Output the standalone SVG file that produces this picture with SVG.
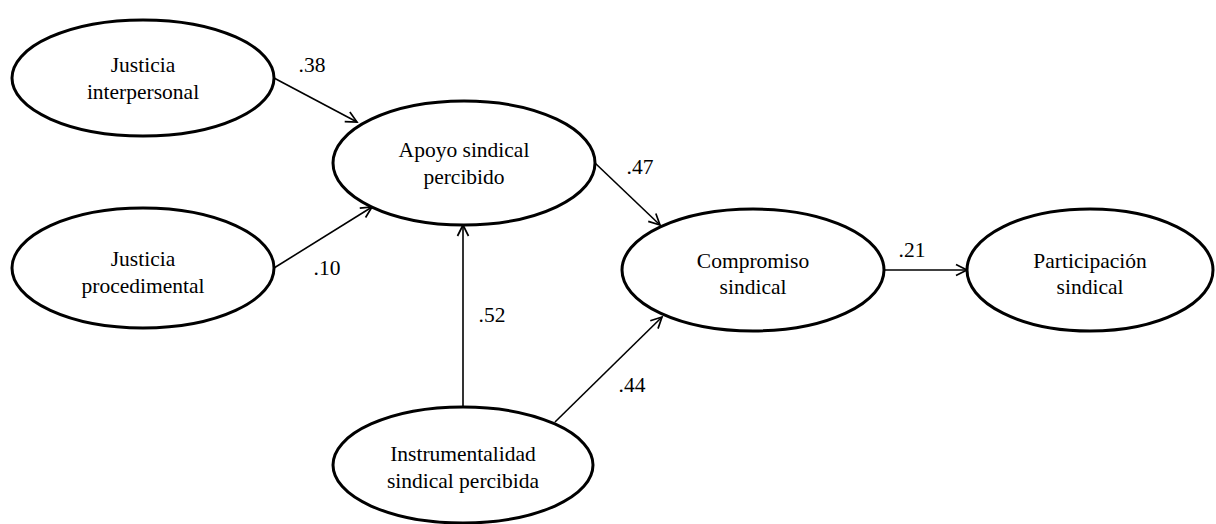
<svg xmlns="http://www.w3.org/2000/svg" width="1216" height="524" viewBox="0 0 1216 524">
  <style>
    .node ellipse { fill: #ffffff; stroke: #000000; stroke-width: 3; }
    .node text { font-family: "Liberation Serif", "Times New Roman", serif; font-size: 21.5px; fill: #000000; text-anchor: middle; }
    .edges line { stroke: #000000; stroke-width: 1.6; fill: none; marker-end: url(#arrow); }
    .coef { font-family: "Liberation Serif", "Times New Roman", serif; font-size: 21.5px; fill: #000000; text-anchor: middle; }
  </style>
  <defs>
    <marker id="arrow" markerUnits="userSpaceOnUse" viewBox="0 0 14 14" refX="12" refY="7" markerWidth="14" markerHeight="14" orient="auto">
      <path d="M1,1.5 L12,7 L1,12.5" fill="none" stroke="#000000" stroke-width="1.7"/>
    </marker>
  </defs>
  <rect width="1216" height="524" fill="#ffffff"/>

  <!-- path connectors -->
  <g id="connectors" class="edges">
    <line x1="274" y1="78" x2="357" y2="122"/>
    <line x1="274" y1="268" x2="372" y2="207"/>
    <line x1="463" y1="407" x2="463" y2="225"/>
    <line x1="595" y1="163" x2="660" y2="225"/>
    <line x1="555" y1="422" x2="662" y2="317"/>
    <line x1="884" y1="270" x2="967" y2="270"/>
  </g>

  <!-- path coefficients -->
  <g id="coefficients">
    <text class="coef" x="312" y="72">.38</text>
    <text class="coef" x="327" y="275">.10</text>
    <text class="coef" x="492" y="322">.52</text>
    <text class="coef" x="640" y="174">.47</text>
    <text class="coef" x="632" y="392">.44</text>
    <text class="coef" x="912" y="257">.21</text>
  </g>

  <g id="justicia-interpersonal" class="node">
    <ellipse cx="143" cy="78" rx="131" ry="58"/>
    <text x="143" y="72">Justicia</text>
    <text x="143" y="99">interpersonal</text>
  </g>

  <g id="justicia-procedimental" class="node">
    <ellipse cx="143" cy="268" rx="131" ry="60"/>
    <text x="143" y="266">Justicia</text>
    <text x="143" y="293">procedimental</text>
  </g>

  <g id="apoyo-sindical" class="node">
    <ellipse cx="464" cy="163" rx="131" ry="62"/>
    <text x="464" y="157">Apoyo sindical</text>
    <text x="464" y="184">percibido</text>
  </g>

  <g id="instrumentalidad" class="node">
    <ellipse cx="463" cy="465" rx="130" ry="58"/>
    <text x="463" y="461">Instrumentalidad</text>
    <text x="463" y="488">sindical percibida</text>
  </g>

  <g id="compromiso-sindical" class="node">
    <ellipse cx="753" cy="270" rx="131" ry="61"/>
    <text x="753" y="268">Compromiso</text>
    <text x="753" y="294">sindical</text>
  </g>

  <g id="participacion-sindical" class="node">
    <ellipse cx="1090" cy="270" rx="123" ry="61"/>
    <text x="1090" y="268">Participación</text>
    <text x="1090" y="294">sindical</text>
  </g>
</svg>
